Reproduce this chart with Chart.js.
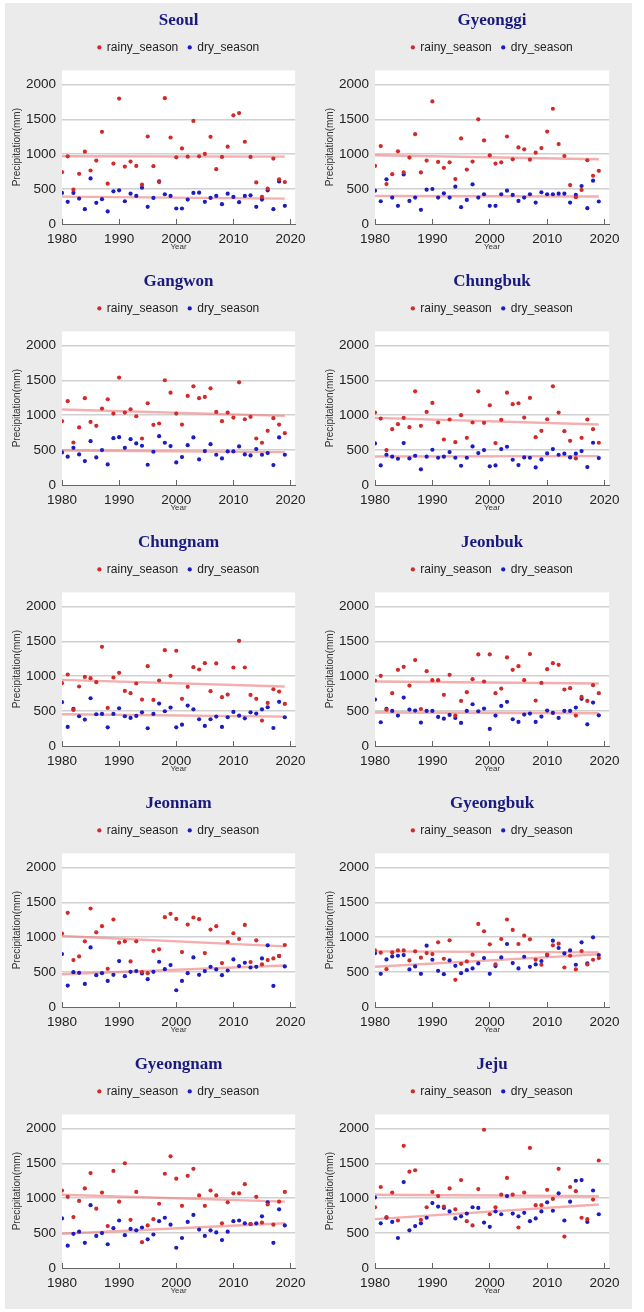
<!DOCTYPE html>
<html>
<head>
<meta charset="utf-8">
<title>Rainy vs dry season precipitation by province</title>
<script src="https://cdn.jsdelivr.net/npm/chart.js@4.4.1/dist/chart.umd.min.js"></script>
<style>
  body { margin: 0; background: #fff; }
  #sheet { position: absolute; left: 5px; top: 3px; width: 627px; height: 1306px; background: #ebebeb; }
  canvas { position: absolute; }
</style>
</head>
<body>
<div id="sheet"></div>
<script>
// Years on the x axis
const years = [1980, 1981, 1982, 1983, 1984, 1985, 1986, 1987, 1988, 1989,
  1990, 1991, 1992, 1993, 1994, 1995, 1996, 1997, 1998, 1999,
  2000, 2001, 2002, 2003, 2004, 2005, 2006, 2007, 2008, 2009,
  2010, 2011, 2012, 2013, 2014, 2015, 2016, 2017, 2018, 2019];
const xTicks = [1980, 1990, 2000, 2010, 2020];
const yTicks = [0, 500, 1000, 1500, 2000];
const trendYears = [1980, 2019];

const regions = ['Seoul', 'Gyeonggi', 'Gangwon', 'Chungbuk', 'Chungnam',
  'Jeonbuk', 'Jeonnam', 'Gyeongbuk', 'Gyeongnam', 'Jeju'];

// precipitation (mm), rainy season / dry season, 1980..2019
const seoulRainy = [743, 970, 492, 719, 1036, 766, 908, 1320, 577, 866, 1797, 823, 894, 832, 563, 1253, 828, 600, 1802, 1239, 955, 1083, 965, 1476, 970, 1003, 1249, 785, 960, 1107, 1556, 1589, 1178, 960, 596, 388, 506, 937, 640, 601];
const seoulDry = [445, 317, 445, 364, 213, 653, 303, 355, 180, 468, 482, 326, 435, 402, 520, 246, 374, 610, 426, 402, 222, 222, 350, 445, 449, 317, 374, 402, 284, 435, 388, 312, 402, 411, 246, 350, 482, 213, 610, 260];
const gyeonggiRainy = [832, 1116, 572, 714, 1041, 738, 951, 1287, 738, 908, 1755, 889, 804, 884, 643, 1225, 780, 894, 1499, 1197, 984, 866, 884, 1253, 927, 1097, 1069, 922, 1022, 1088, 1324, 1651, 1145, 974, 558, 383, 487, 913, 691, 762];
const gyeonggiDry = [478, 326, 640, 378, 260, 709, 331, 378, 203, 492, 501, 378, 440, 378, 534, 241, 345, 568, 378, 426, 260, 260, 426, 478, 416, 331, 378, 426, 307, 454, 426, 426, 435, 435, 307, 416, 544, 227, 620, 322];
const gangwonRainy = [914, 1200, 609, 824, 1243, 904, 847, 1095, 1228, 1023, 1538, 1038, 1085, 985, 666, 1171, 862, 881, 1500, 1323, 1023, 866, 1276, 1414, 1243, 1262, 1385, 1047, 914, 1038, 966, 1471, 942, 976, 666, 605, 776, 957, 866, 743];
const gangwonDry = [466, 405, 533, 438, 343, 628, 395, 500, 295, 671, 685, 533, 657, 595, 562, 290, 476, 700, 605, 557, 324, 400, 571, 681, 367, 486, 585, 433, 381, 481, 481, 552, 438, 424, 514, 433, 457, 286, 681, 433];
const chungbukRainy = [1038, 952, 500, 800, 871, 962, 828, 1342, 847, 1047, 1176, 895, 652, 938, 614, 1000, 676, 895, 1342, 890, 1142, 600, 933, 1323, 1157, 1171, 966, 1247, 685, 776, 942, 1414, 1038, 771, 633, 381, 676, 938, 800, 605];
const chungbukDry = [595, 281, 433, 405, 376, 600, 381, 419, 224, 405, 505, 390, 405, 471, 390, 276, 390, 552, 457, 500, 267, 281, 514, 548, 362, 286, 395, 390, 252, 367, 452, 514, 433, 448, 395, 448, 486, 257, 605, 386];
const chungnamRainy = [900, 1024, 517, 852, 990, 971, 914, 1421, 545, 981, 1048, 789, 756, 895, 665, 1144, 660, 938, 1373, 1005, 1364, 675, 847, 1129, 1096, 1187, 785, 1182, 699, 737, 1124, 1507, 1124, 732, 675, 364, 617, 813, 780, 603];
const chungnamDry = [627, 273, 531, 426, 378, 684, 455, 459, 268, 459, 541, 426, 402, 431, 483, 254, 459, 608, 498, 550, 268, 306, 579, 526, 383, 287, 383, 421, 273, 412, 488, 435, 397, 483, 464, 526, 555, 258, 632, 412];
const jeonbukRainy = [938, 1005, 520, 757, 1091, 1134, 866, 1230, 530, 1072, 943, 943, 733, 1019, 436, 646, 771, 957, 1311, 924, 1311, 757, 823, 1268, 1091, 1144, 943, 1316, 651, 904, 1101, 1187, 1163, 809, 828, 436, 703, 646, 871, 757];
const jeonbukDry = [665, 340, 531, 502, 436, 694, 522, 507, 335, 502, 502, 416, 392, 445, 402, 330, 502, 598, 498, 536, 244, 436, 574, 632, 383, 345, 450, 464, 345, 421, 507, 474, 402, 502, 502, 550, 675, 311, 622, 440];
const jeonnamRainy = [1051, 1349, 672, 725, 941, 1411, 1070, 1157, 547, 1253, 922, 941, 653, 941, 500, 485, 802, 826, 1286, 1334, 1262, 787, 1181, 1282, 1258, 773, 1109, 1157, 629, 931, 1056, 974, 1176, 643, 955, 610, 672, 696, 734, 888];
const jeonnamDry = [758, 307, 499, 490, 331, 854, 456, 485, 374, 461, 658, 442, 504, 514, 480, 398, 504, 648, 542, 600, 240, 374, 485, 710, 461, 514, 576, 538, 456, 523, 682, 586, 634, 566, 576, 696, 883, 302, 730, 581];
const gyeongbukRainy = [810, 778, 542, 782, 811, 811, 667, 797, 706, 773, 758, 926, 691, 955, 389, 619, 653, 749, 1190, 1085, 898, 610, 974, 1253, 1104, 902, 1022, 970, 677, 605, 750, 883, 907, 566, 734, 538, 802, 610, 677, 701];
const gyeongbukDry = [770, 475, 682, 725, 734, 744, 538, 581, 475, 878, 677, 518, 470, 667, 590, 485, 528, 552, 624, 701, 475, 586, 710, 902, 629, 552, 720, 576, 610, 658, 744, 950, 845, 768, 811, 605, 926, 624, 998, 744];
const gyeongnamRainy = [1110, 1020, 730, 960, 1140, 1360, 850, 1080, 600, 1390, 950, 1500, 690, 1090, 370, 610, 700, 920, 1350, 1600, 1280, 890, 1320, 1420, 1040, 890, 1110, 1040, 640, 940, 1070, 1070, 1200, 630, 1020, 650, 910, 620, 950, 1090];
const gyeongnamDry = [710, 320, 490, 520, 360, 900, 460, 500, 340, 570, 680, 470, 560, 540, 580, 410, 480, 670, 720, 620, 290, 430, 660, 760, 550, 460, 540, 510, 400, 520, 670, 680, 640, 630, 640, 740, 940, 360, 840, 610];
const jejuRainy = [870, 1160, 730, 1080, 680, 1750, 1380, 1400, 690, 870, 1090, 1030, 880, 1140, 840, 1260, 670, 610, 1130, 1980, 770, 870, 1050, 1290, 1050, 580, 1080, 1720, 900, 900, 1120, 990, 1420, 450, 1160, 1100, 720, 700, 980, 1540];
const jejuDry = [1010, 640, 720, 660, 430, 1230, 540, 600, 640, 720, 930, 880, 860, 810, 710, 740, 780, 870, 860, 650, 590, 810, 770, 1030, 780, 740, 790, 670, 710, 810, 940, 820, 1070, 680, 950, 1250, 1260, 660, 1110, 770];

// trend line ends (value at 1980 and 2019), same order as regions
const rainyTrendStart = [970, 984, 1081, 962, 947, 924, 1018, 797, 1050, 1050];
const rainyTrendEnd = [965, 927, 990, 866, 852, 895, 869, 782, 950, 1030];
const dryTrendStart = [392, 402, 495, 409, 455, 479, 470, 576, 490, 700];
const dryTrendEnd = [364, 393, 471, 414, 421, 469, 595, 754, 640, 910];

const rainySeries = [seoulRainy, gyeonggiRainy, gangwonRainy, chungbukRainy, chungnamRainy,
  jeonbukRainy, jeonnamRainy, gyeongbukRainy, gyeongnamRainy, jejuRainy];
const drySeries = [seoulDry, gyeonggiDry, gangwonDry, chungbukDry, chungnamDry,
  jeonbukDry, jeonnamDry, gyeongbukDry, gyeongnamDry, jejuDry];

const RED = '#d02a2a';
const BLUE = '#1c1cc0';
const TREND = 'rgba(236,120,120,0.6)';
const SANS = "'Liberation Sans', Arial, sans-serif";

// white plot area like the original figure
const plotBg = {
  id: 'plotBg',
  beforeDraw(chart) {
    const { ctx, chartArea: a } = chart;
    ctx.save();
    ctx.fillStyle = '#fff';
    ctx.fillRect(a.left, a.top, a.right - a.left, a.bottom - a.top);
    ctx.restore();
  }
};

const toPts = vals => vals.map((v, i) => ({ x: years[i], y: v }));
const trendPts = (a, b) => [{ x: trendYears[0], y: a }, { x: trendYears[1], y: b }];

function buildPanel(i) {
  const col = i % 2, row = Math.floor(i / 2);
  const canvas = document.createElement('canvas');
  canvas.width = col === 0 ? 313 : 314;
  canvas.height = 261;
  canvas.style.left = (col === 0 ? 5 : 318) + 'px';
  canvas.style.top = (3 + row * 261) + 'px';
  document.body.appendChild(canvas);

  new Chart(canvas.getContext('2d'), {
    type: 'scatter',
    data: {
      datasets: [
        { label: 'rainy_season', data: toPts(rainySeries[i]), backgroundColor: RED, borderWidth: 0,
          pointRadius: 2.1, pointStyle: 'circle', order: 0, xAxisID: 'x', yAxisID: 'y' },
        { label: 'dry_season', data: toPts(drySeries[i]), backgroundColor: BLUE, borderWidth: 0,
          pointRadius: 2.1, pointStyle: 'circle', order: 0, xAxisID: 'x', yAxisID: 'y' },
        { label: 'rainy_trend', data: trendPts(rainyTrendStart[i], rainyTrendEnd[i]), showLine: true,
          borderColor: TREND, borderWidth: 2.4, pointRadius: 0, order: 1, xAxisID: 'x', yAxisID: 'y' },
        { label: 'dry_trend', data: trendPts(dryTrendStart[i], dryTrendEnd[i]), showLine: true,
          borderColor: TREND, borderWidth: 2.4, pointRadius: 0, order: 1, xAxisID: 'x', yAxisID: 'y' }
      ]
    },
    options: {
      responsive: false,
      animation: false,
      layout: { padding: { left: 0, right: 8, top: 0, bottom: 0 } },
      plugins: {
        title: {
          display: true, text: regions[i], fullSize: false, color: '#1a1a7e',
          font: { family: "'Liberation Serif', 'Times New Roman', serif", size: 17, weight: 'bold' },
          padding: { top: 7, bottom: 1 }
        },
        legend: {
          display: true, position: 'top', fullSize: false,
          labels: {
            usePointStyle: true, pointStyle: 'circle', boxWidth: 3, boxHeight: 3, padding: 10,
            color: '#222', font: { family: SANS, size: 12 },
            filter: item => item.datasetIndex < 2
          }
        },
        tooltip: { enabled: false }
      },
      scales: {
        x: {
          type: 'linear', position: 'bottom', min: 1980, max: 2020.8,
          afterBuildTicks: s => { s.ticks = xTicks.map(v => ({ value: v })); },
          afterFit: s => { s.height = 40; },
          grid: { drawOnChartArea: false, drawTicks: true, tickLength: -5, tickColor: '#666', tickWidth: 1 },
          border: { display: true, color: '#666', width: 1 },
          ticks: { padding: 12, maxRotation: 0, autoSkip: false, color: '#222',
            font: { family: SANS, size: 13.5 }, callback: v => String(v) },
          title: { display: true, text: 'Year', color: '#333', font: { family: SANS, size: 8 },
            padding: { top: 0, bottom: 12 } }
        },
        xTop: {
          type: 'linear', position: 'top', display: true,
          afterFit: s => { s.height = 7; },
          grid: { display: false }, border: { display: false }, ticks: { display: false }
        },
        y: {
          type: 'linear', position: 'left', min: 0, max: 2200,
          afterBuildTicks: s => { s.ticks = yTicks.map(v => ({ value: v })); },
          afterFit: s => { s.width = 57; },
          grid: { drawTicks: false, lineWidth: 1.5,
            color: ctx => ctx.tick && ctx.tick.value === 0 ? 'rgba(0,0,0,0)' : '#d0d0d0' },
          border: { display: false },
          ticks: { padding: 6, color: '#222', font: { family: SANS, size: 13.5 }, callback: v => String(v) },
          title: { display: true, text: 'Precipitation(mm)', color: '#333', font: { family: SANS, size: 10 },
            padding: { top: 6, bottom: 0 } }
        }
      }
    },
    plugins: [plotBg]
  });
}

regions.forEach((name, i) => buildPanel(i));
</script>
</body>
</html>
